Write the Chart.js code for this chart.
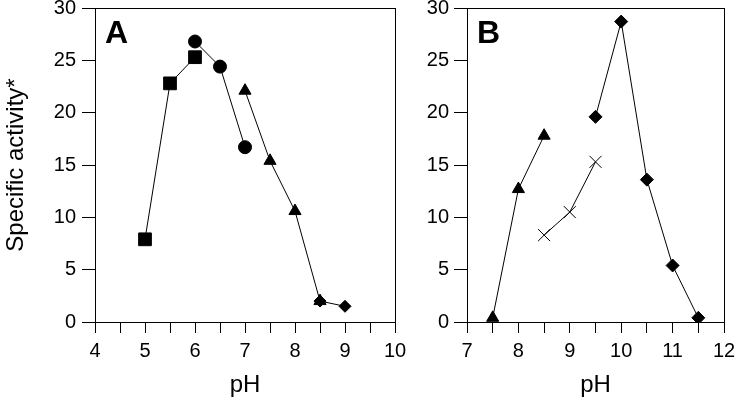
<!DOCTYPE html>
<html>
<head>
<meta charset="utf-8">
<script src="https://cdn.jsdelivr.net/npm/chart.js@4"></script>
<style>
  html, body { margin: 0; padding: 0; background: #fff; }
  #wrap { position: relative; width: 738px; height: 400px; }
  canvas { position: absolute; top: 0; }
</style>
</head>
<body>
<div id="wrap">
  <canvas id="chartA" width="420" height="400" style="left:0"></canvas>
  <canvas id="chartB" width="338" height="400" style="left:400px"></canvas>
</div>
<script>
// panel A
var phA_square = [5, 5.5, 6];
var actA_square = [7.9, 22.8, 25.3];
var phA_circle = [6, 6.5, 7];
var actA_circle = [26.8, 24.4, 16.7];
var phA_triangle = [7, 7.5, 8, 8.5];
var actA_triangle = [22.1, 15.4, 10.6, 2.0];
var phA_diamond = [8.5, 9];
var actA_diamond = [2.0, 1.5];

// panel B
var phB_triangle = [7.5, 8, 8.5];
var actB_triangle = [0.4, 12.7, 17.8];
var phB_cross = [8.5, 9, 9.5];
var actB_cross = [8.3, 10.5, 15.3];
var phB_diamond = [9.5, 10, 10.5, 11, 11.5];
var actB_diamond = [19.6, 28.7, 13.6, 5.4, 0.4];

var yTicks = [0, 5, 10, 15, 20, 25, 30];
var FONT = "'Liberation Sans', Arial, sans-serif";

function pts(xs, ys) {
    return xs.map(function (x, i) { return { x: x, y: ys[i] }; });
}

function series(xs, ys, style, r) {
    return {
        data: pts(xs, ys),
        showLine: true,
        borderColor: '#000',
        borderWidth: 1,
        backgroundColor: '#000',
        pointStyle: style,
        pointRadius: r,
        pointBorderWidth: 1,
        pointBorderColor: '#000',
        pointBackgroundColor: '#000'
    };
}

// no label overflow padding, plot area is set by hand
function noPad(s) {
    s.paddingTop = 0;
    s.paddingBottom = 0;
    s.paddingLeft = 0;
    s.paddingRight = 0;
}

// box around plot + panel letter
var boxPlugin = {
    id: 'box',
    afterDraw: function (chart, args, opts) {
        var a = chart.chartArea, ctx = chart.ctx;
        ctx.save();
        ctx.strokeStyle = '#000';
        ctx.lineWidth = 1;
        ctx.strokeRect(Math.round(a.left) + 0.5, Math.round(a.top) + 0.5,
            Math.round(a.right - a.left), Math.round(a.bottom - a.top));
        ctx.fillStyle = '#000';
        ctx.font = "bold 32px " + FONT;
        ctx.textBaseline = 'alphabetic';
        ctx.fillText(opts.letter, a.left + 10, 43);
        ctx.restore();
    }
};

function makeChart(id, datasets, xmin, xmax, yWidth, padRight, yTitle, letter, yPad) {
    return new Chart(document.getElementById(id), {
        type: 'scatter',
        data: { datasets: datasets },
        plugins: [boxPlugin],
        options: {
            responsive: false,
            animation: false,
            devicePixelRatio: 1,
            layout: { autoPadding: false, padding: { top: 8, right: padRight, left: 0, bottom: 0 } },
            plugins: {
                legend: { display: false },
                tooltip: { enabled: false },
                box: { letter: letter }
            },
            scales: {
                x: {
                    type: 'linear',
                    min: xmin,
                    max: xmax,
                    afterFit: function (s) { s.height = 78; noPad(s); },
                    border: { display: true, color: '#000', width: 1 },
                    grid: { drawOnChartArea: false, drawTicks: true, tickLength: 11, color: '#000' },
                    ticks: {
                        stepSize: 0.5,
                        autoSkip: false,
                        maxRotation: 0,
                        padding: 6,
                        color: '#000',
                        font: { family: FONT, size: 20 },
                        callback: function (v) { return Number.isInteger(v) ? v : ''; }
                    },
                    title: {
                        display: true,
                        text: 'pH',
                        color: '#000',
                        padding: { top: 0, bottom: 0 },
                        font: { family: FONT, size: 24 }
                    }
                },
                y: {
                    type: 'linear',
                    min: 0,
                    max: 30,
                    afterFit: function (s) { s.width = yWidth; noPad(s); },
                    afterBuildTicks: function (s) { s.ticks = yTicks.map(function (v) { return { value: v }; }); },
                    border: { display: true, color: '#000', width: 1 },
                    grid: { drawOnChartArea: false, drawTicks: true, tickLength: 13, color: '#000' },
                    ticks: {
                        padding: yPad,
                        color: '#000',
                        font: { family: FONT, size: 20 }
                    },
                    title: {
                        display: yTitle !== '',
                        text: yTitle,
                        color: '#000',
                        padding: { top: 2, bottom: 0 },
                        font: { family: FONT, size: 24 }
                    }
                }
            }
        }
    });
}

makeChart('chartA', [
    series(phA_square, actA_square, 'rect', 9),
    series(phA_circle, actA_circle, 'circle', 6.5),
    series(phA_triangle, actA_triangle, 'triangle', 7),
    series(phA_diamond, actA_diamond, 'rectRot', 6)
], 4, 10, 95, 25, 'Specific activity*', 'A', 6);

makeChart('chartB', [
    series(phB_triangle, actB_triangle, 'triangle', 7),
    series(phB_cross, actB_cross, 'crossRot', 8.5),
    series(phB_diamond, actB_diamond, 'rectRot', 6.5)
], 7, 12, 67, 14, '', 'B', 5);
</script>
</body>
</html>
